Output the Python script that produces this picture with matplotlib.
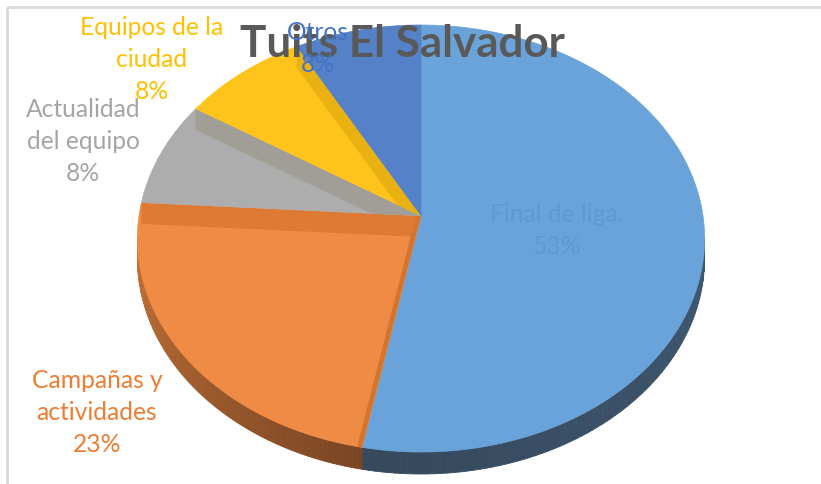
import numpy as np
import matplotlib
matplotlib.use("Agg")
import matplotlib.pyplot as plt
from matplotlib.patches import Polygon, Rectangle
from matplotlib.colors import to_rgb

# ---------------- data ----------------
categories = ["Final de liga.", "Campañas y actividades", "Actualidad del equipo",
              "Equipos de la ciudad", "Otros"]
label_lines = [["Final de liga."], ["Campañas y", "actividades"], ["Actualidad", "del equipo"],
               ["Equipos de la", "ciudad"], ["Otros"]]
values = [53, 23, 8, 8, 8]
title = "Tuits El Salvador"

# ---------------- styles ----------------
top_colors = ["#69A3D9", "#EF8B45", "#ADADAD", "#FFC41C", "#5581C9"]
band_colors = [None, "#DF7A35", "#A19E98", "#E9B111", None]
side_colors = [("#3E5770", "#36495D"), ("#7A4524", "#C47236"), ("#8A8A8A", "#8A8A8A"),
               ("#C09010", "#C09010"), ("#3A5A90", "#3A5A90")]
label_colors = ["#5B9BD5", "#ED7D31", "#A5A5A5", "#FFC000", "#4472C4"]
# label anchor (centre x, first baseline y) in pixel layout
label_pos = [(557, 222), (97, 388), (83, 117), (152, 35), (318, 40)]
LINE_STEP = 32

W, H = 821, 484
fig = plt.figure(figsize=(W / 100, H / 100), dpi=100)
ax = fig.add_axes([0, 0, 1, 1])
ax.set_xlim(0, W)
ax.set_ylim(H, 0)
ax.axis("off")

# pie geometry (perspective projection of a disc)
CX, CY, TOPY, BOTY, RX = 421, 216, 25, 452, 282
THICK = 22
BAND = 21
r = (2 * CY - BOTY - TOPY) / (TOPY - BOTY)
p = TOPY * (1 + r) - CY


def proj(theta_deg, rho=1.0):
    t = np.radians(theta_deg)
    u = rho * np.sin(t)
    v = rho * np.cos(t)
    den = 1 + r * v
    return CX + RX * u / den, (p * v + CY) / den


def depth(theta_deg):
    v = np.cos(np.radians(theta_deg))
    return THICK * (1 - r) / (1 + r * v)


total = float(sum(values))
bounds = np.concatenate([[0], np.cumsum(values)]) / total * 360.0
VIS_LO, VIS_HI = 96.0, 264.0


def lerp(c1, c2, f):
    a = np.array(to_rgb(c1))
    b = np.array(to_rgb(c2))
    return tuple(a + (b - a) * f)


# side faces
for i in range(len(values)):
    a0, a1 = bounds[i], bounds[i + 1]
    lo, hi = max(a0, VIS_LO), min(a1, VIS_HI)
    if lo >= hi:
        continue
    ts = np.linspace(lo, hi, 80)
    xs, ys = proj(ts)
    ds = depth(ts)
    for j in range(len(ts) - 1):
        f = j / (len(ts) - 2) if len(ts) > 2 else 0
        c = lerp(side_colors[i][0], side_colors[i][1], f)
        quad = [(xs[j], ys[j]), (xs[j + 1], ys[j + 1]),
                (xs[j + 1], ys[j + 1] + ds[j + 1]), (xs[j], ys[j] + ds[j])]
        ax.add_patch(Polygon(quad, closed=True, facecolor=c, edgecolor=c, lw=0.6, zorder=1))

# top faces + bands
for i in range(len(values)):
    a0, a1 = bounds[i], bounds[i + 1]
    ts = np.linspace(a0, a1, max(3, int((a1 - a0) * 2)))
    xs, ys = proj(ts)
    pts = [(CX, CY)] + list(zip(xs, ys))
    wedge = Polygon(pts, closed=True, facecolor=top_colors[i], edgecolor=top_colors[i],
                    lw=0.5, zorder=2)
    ax.add_patch(wedge)
    if band_colors[i] is not None:
        ex, ey = proj(a1)
        band = Polygon([(CX, CY), (ex, ey), (ex, ey + BAND), (CX, CY + BAND)], closed=True,
                       facecolor=band_colors[i], edgecolor="none", zorder=3)
        ax.add_patch(band)
        band.set_clip_path(wedge)
    if i == 1:
        sx, sy = proj(a0)
        strip = Polygon([(CX, CY), (sx, sy), (sx - 5, sy), (CX - 5, CY)], closed=True,
                        facecolor="#D3742F", edgecolor="none", zorder=3)
        ax.add_patch(strip)
        strip.set_clip_path(wedge)

# frame
ax.add_patch(Rectangle((7, 7), 900, 600, fill=False, edgecolor="#D9D9D9", lw=2, zorder=0))

# fonts sized to target widths
fig.canvas.draw()
renderer = fig.canvas.get_renderer()


def fit_size(text, target_px, **kw):
    t = ax.text(0, 0, text, fontsize=20, **kw)
    w = t.get_window_extent(renderer).width
    t.remove()
    return 20 * target_px / w


FONT = "Lato"
title_fs = fit_size(title, 325, family=FONT, fontweight="bold")
label_fs = fit_size("Equipos de la", 144, family=FONT)

ax.text(402, 57, title, ha="center", va="baseline", fontsize=title_fs, family=FONT,
        fontweight="bold", color="#595959", zorder=5)

for i in range(len(values)):
    x0, y0 = label_pos[i]
    lines = label_lines[i] + [f"{values[i]}%"]
    for k, ln in enumerate(lines):
        ax.text(x0, y0 + k * LINE_STEP, ln, ha="center", va="baseline", fontsize=label_fs,
                family=FONT, color=label_colors[i], zorder=6)

fig.savefig("out.png", dpi=100)
